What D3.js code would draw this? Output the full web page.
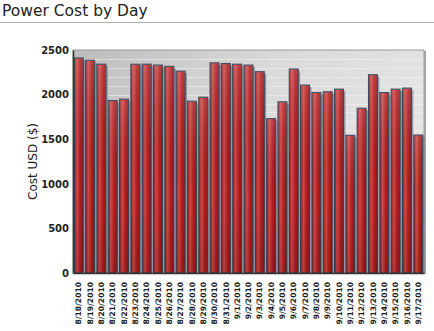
<!DOCTYPE html>
<html><head><meta charset="utf-8">
<script src="https://cdn.jsdelivr.net/npm/d3@7"></script>
<style>body{margin:0;background:#fff;}svg{display:block;font-family:"DejaVu Sans",Verdana,sans-serif;}</style>
</head><body><svg id="c" width="434" height="331"></svg>
<script>
const dates = ["8/18/2010","8/19/2010","8/20/2010","8/21/2010","8/22/2010","8/23/2010","8/24/2010","8/25/2010","8/26/2010","8/27/2010","8/28/2010","8/29/2010","8/30/2010","8/31/2010","9/1/2010","9/2/2010","9/3/2010","9/4/2010","9/5/2010","9/6/2010","9/7/2010","9/8/2010","9/9/2010","9/10/2010","9/11/2010","9/12/2010","9/13/2010","9/14/2010","9/15/2010","9/16/2010","9/17/2010"];
const costs = [2410,2385,2340,1933,1948,2340,2340,2330,2316,2262,1925,1970,2355,2348,2340,2330,2256,1730,1918,2286,2106,2023,2031,2060,1543,1847,2222,2023,2060,2072,1546];
const yTicks = [0,500,1000,1500,2000,2500];
const title = "Power Cost by Day";
const yTitle = "Cost USD ($)";

const svg = d3.select("#c");
const L = 73, R = 424, T = 50, B = 273;
const defs = svg.append("defs");
const bg = defs.append("linearGradient").attr("id","bg").attr("x1","0").attr("y1","0").attr("x2","1").attr("y2","0.6");
bg.append("stop").attr("offset","0").attr("stop-color","#bcbcbc");
bg.append("stop").attr("offset","0.45").attr("stop-color","#dadada");
bg.append("stop").attr("offset","1").attr("stop-color","#e8e8e8");
const bar = defs.append("linearGradient").attr("id","bar").attr("x1","0").attr("y1","0").attr("x2","1").attr("y2","0");
bar.append("stop").attr("offset","0").attr("stop-color","#a51818");
bar.append("stop").attr("offset","0.3").attr("stop-color","#cf4a4a");
bar.append("stop").attr("offset","0.6").attr("stop-color","#b82222");
bar.append("stop").attr("offset","1").attr("stop-color","#951212");
const barV = defs.append("linearGradient").attr("id","barV").attr("x1","0").attr("y1","0").attr("x2","0").attr("y2","1");
barV.append("stop").attr("offset","0").attr("stop-color","#fff").attr("stop-opacity",0.15);
barV.append("stop").attr("offset","0.6").attr("stop-color","#000").attr("stop-opacity",0.0);
barV.append("stop").attr("offset","1").attr("stop-color","#000").attr("stop-opacity",0.12);

// title
svg.append("text").attr("x",2).attr("y",16).attr("font-size",15.5).attr("fill","#222").text(title);
svg.append("line").attr("x1",0).attr("x2",434).attr("y1",22.5).attr("y2",22.5).attr("stroke","#b0b0b0").attr("stroke-width",1);

const x = d3.scaleBand().domain(dates).range([L, R]).paddingInner(0.22).paddingOuter(0.12);
const y = d3.scaleLinear().domain([0,2500]).range([B, T]);

// plot background with shadow
svg.append("rect").attr("x",L+2).attr("y",T+1).attr("width",R-L).attr("height",B-T).attr("fill","#a8a8a8");
svg.append("rect").attr("x",L).attr("y",T).attr("width",R-L).attr("height",B-T).attr("fill","url(#bg)").attr("stroke","#9a9a9a").attr("stroke-width",1);
// faint minor lines
const minor = d3.range(100,2500,100);
svg.append("g").selectAll("line").data(minor).join("line")
  .attr("x1",L+1).attr("x2",R-1).attr("y1",d=>Math.round(y(d))+0.5).attr("y2",d=>Math.round(y(d))+0.5)
  .attr("stroke","#f4f4f4").attr("stroke-opacity",0.55);

// bars: shadow then bar
const g = svg.append("g");
g.selectAll("rect.sh").data(costs).join("rect").attr("class","sh")
  .attr("x",(d,i)=>x(dates[i])+2).attr("y",d=>y(d)+2).attr("width",x.bandwidth()).attr("height",d=>B-y(d)-2)
  .attr("fill","#6f7c8c").attr("opacity",0.7);
g.selectAll("rect.b").data(costs).join("rect").attr("class","b")
  .attr("x",(d,i)=>x(dates[i])).attr("y",d=>y(d)).attr("width",x.bandwidth()).attr("height",d=>B-y(d))
  .attr("fill","url(#bar)").attr("stroke","#3b3f55").attr("stroke-width",1.2);
g.selectAll("rect.o").data(costs).join("rect").attr("class","o")
  .attr("x",(d,i)=>x(dates[i])).attr("y",d=>y(d)).attr("width",x.bandwidth()).attr("height",d=>B-y(d))
  .attr("fill","url(#barV)").attr("pointer-events","none");

// axes
const ya = d3.axisLeft(y).tickValues(yTicks).tickSize(0).tickPadding(4).tickFormat(d3.format("d"));
const yg = svg.append("g").attr("transform",`translate(${L},0)`).call(ya);
yg.select(".domain").attr("stroke","#333").attr("stroke-width",1.5);
yg.selectAll("text").attr("font-size",10).attr("font-weight","bold").attr("fill","#222").attr("font-family","DejaVu Sans, Verdana, sans-serif");

const xa = d3.axisBottom(x).tickSize(0).tickPadding(0);
const xg = svg.append("g").attr("transform",`translate(0,${B})`).call(xa);
xg.select(".domain").attr("stroke","#333").attr("stroke-width",1.5);
xg.selectAll("text")
  .attr("font-size",7.6).attr("font-weight","bold").attr("fill","#222").attr("font-family","DejaVu Sans, Verdana, sans-serif")
  .attr("text-anchor","end").attr("dy","0.35em")
  .attr("transform","translate(0,9) rotate(-90)").attr("x",0).attr("y",0);

svg.append("text").attr("transform",`translate(37,${(T+B)/2}) rotate(-90)`)
  .attr("text-anchor","middle").attr("font-size",12).attr("fill","#222").text(yTitle);
</script></body></html>
